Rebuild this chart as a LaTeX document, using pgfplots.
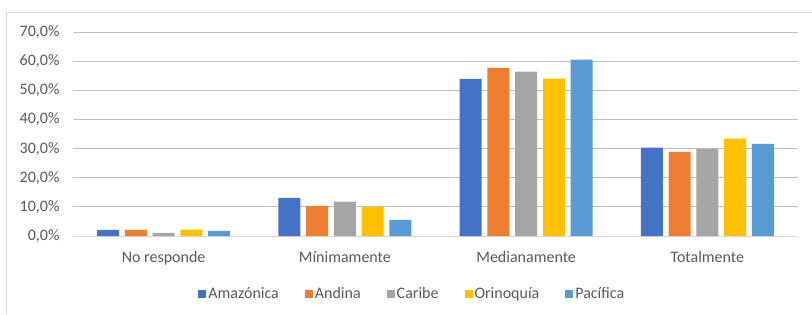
\documentclass[border=0pt]{standalone}
\usepackage{pgfplots}
\pgfplotsset{compat=1.18}
\usepackage{fontspec}
\setmainfont{Carlito}
\definecolor{cA}{HTML}{4472C4}
\definecolor{cB}{HTML}{ED7D31}
\definecolor{cC}{HTML}{A5A5A5}
\definecolor{cD}{HTML}{FFC000}
\definecolor{cE}{HTML}{5B9BD5}
\definecolor{txt}{HTML}{595959}
\definecolor{grid}{HTML}{D9D9D9}
\begin{document}
\begin{tikzpicture}
\path[use as bounding box] (-73pt,-78pt) rectangle (739pt,236pt);
\draw[grid, line width=0.8pt] (-67pt,-78pt) -- (-67pt,224pt) -- (739pt,224pt);
\begin{axis}[
  at={(0pt,0pt)}, anchor=south west,
  scale only axis,
  width=725pt, height=204pt,
  ymin=0, ymax=70,
  xmin=-0.5, xmax=3.5,
  ytick={0,10,...,70},
  yticklabels={{0,0\%},{10,0\%},{20,0\%},{30,0\%},{40,0\%},{50,0\%},{60,0\%},{70,0\%}},
  xtick={0,1,2,3},
  xticklabels={No responde, Mínimamente, Medianamente, Totalmente},
  major tick length=0pt,
  ymajorgrids, xmajorgrids=false,
  grid style={grid, line width=0.8pt},
  axis x line*=bottom, axis y line*=left,
  x axis line style={draw=grid, line width=1pt, -},
  y axis line style={draw=none},
  tick label style={font=\fontsize{16}{19}\selectfont, text=txt},
  /pgf/number format/assume math mode=true,
  yticklabel style={anchor=east, xshift=-10pt},
  xticklabel style={anchor=north, yshift=-12pt},
  ybar=5.75pt,
  bar width=22pt,
  legend columns=-1,
  legend style={at={(axis description cs:0.468,0)}, anchor=center, yshift=-58pt,
    draw=none, font=\fontsize{16}{19}\selectfont, text=txt,
    /tikz/every even column/.append style={column sep=24pt}},
  legend image code/.code={\fill[#1] (0pt,-4pt) rectangle (8pt,4pt);},
]
\addplot[fill=cA, draw=none] coordinates {(0,2.1) (1,13.1) (2,53.9) (3,30.3)};
\addplot[fill=cB, draw=none] coordinates {(0,2.1) (1,10.3) (2,57.7) (3,28.9)};
\addplot[fill=cC, draw=none] coordinates {(0,1.1) (1,11.8) (2,56.4) (3,29.9)};
\addplot[fill=cD, draw=none] coordinates {(0,2.2) (1,10.0) (2,54.0) (3,33.4)};
\addplot[fill=cE, draw=none] coordinates {(0,1.8) (1,5.5) (2,60.5) (3,31.6)};
\legend{Amazónica, Andina, Caribe, Orinoquía, Pacífica}
\end{axis}
\end{tikzpicture}
\end{document}
